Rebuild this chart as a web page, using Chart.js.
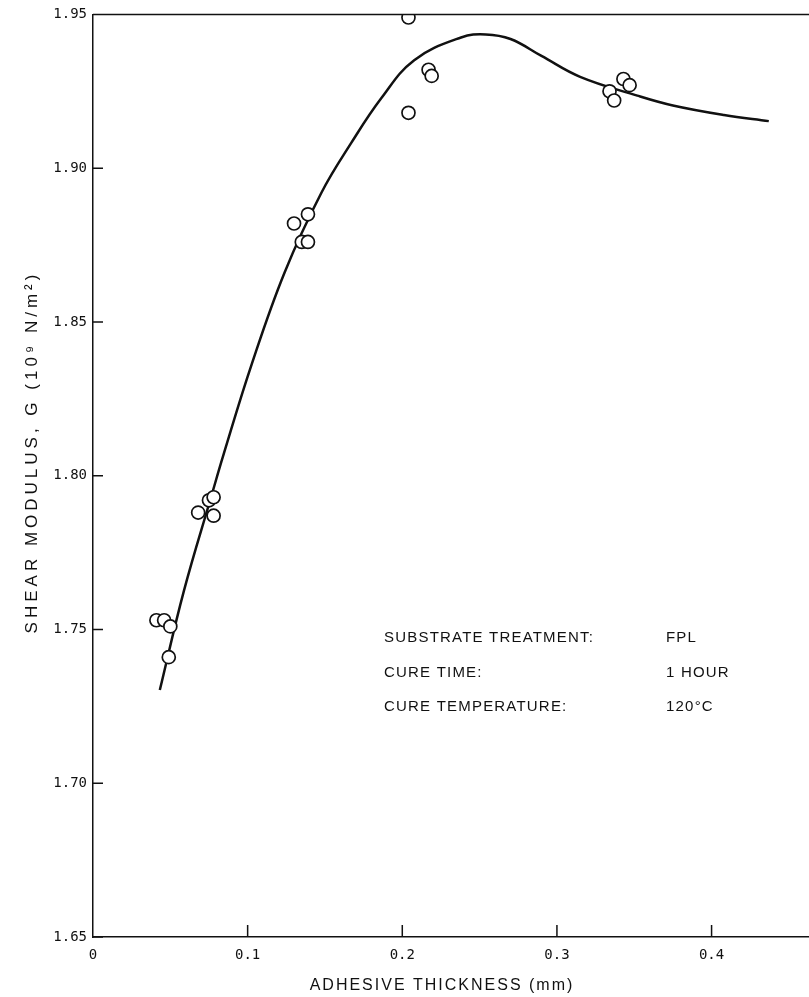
<!DOCTYPE html>
<html>
<head>
<meta charset="utf-8">
<script src="https://cdn.jsdelivr.net/npm/chart.js@4"></script>
<style>
  html, body { margin: 0; padding: 0; background: #fff; }
  #wrap { width: 809px; height: 997px; }
</style>
</head>
<body>
<div id="wrap"><canvas id="chart" width="809" height="997"></canvas></div>
<script>
// measured points (adhesive thickness mm, G in 10^9 N/m^2)
const pointX = [0.041, 0.046, 0.050, 0.049, 0.068, 0.075, 0.078, 0.078,
                0.130, 0.139, 0.135, 0.139, 0.204, 0.217, 0.219, 0.204,
                0.334, 0.337, 0.343, 0.347];
const pointY = [1.753, 1.753, 1.751, 1.741, 1.788, 1.792, 1.793, 1.787,
                1.882, 1.885, 1.876, 1.876, 1.949, 1.932, 1.930, 1.918,
                1.925, 1.922, 1.929, 1.927];

// fitted curve
const curveX = [0.0432, 0.0587, 0.0768, 0.0845, 0.1026, 0.1239, 0.1477, 0.167, 0.1865, 0.2077,
                0.238, 0.254, 0.270, 0.290, 0.315, 0.352, 0.375, 0.408, 0.437];
const curveY = [1.7303, 1.7624, 1.7938, 1.8070, 1.8362, 1.8661, 1.8920, 1.9082, 1.9228, 1.9351,
                1.9425, 1.9435, 1.9420, 1.9365, 1.9297, 1.9236, 1.9204, 1.9173, 1.9153];

const xTicks = [0, 0.1, 0.2, 0.3, 0.4];
const yTicks = [1.65, 1.70, 1.75, 1.80, 1.85, 1.90, 1.95];

const noteLabels = ['SUBSTRATE TREATMENT:', 'CURE TIME:', 'CURE TEMPERATURE:'];
const noteValues = ['FPL', '1 HOUR', '120°C'];

const xTitle = 'ADHESIVE THICKNESS (mm)';
const yTitle = 'SHEAR MODULUS, G (10⁹ N/m²)';

const tickFont = { family: 'DejaVu Sans Mono', size: 14 };

// inward tick marks, top frame line, titles, note box
const paperPlugin = {
  id: 'paper',
  afterDraw(chart) {
    const ctx = chart.ctx;
    const xs = chart.scales.x, ys = chart.scales.y;
    const a = chart.chartArea;
    ctx.save();
    ctx.strokeStyle = '#111';
    ctx.lineWidth = 1.5;
    ctx.beginPath();
    // top line at 1.95
    ctx.moveTo(a.left, ys.getPixelForValue(1.95));
    ctx.lineTo(a.right, ys.getPixelForValue(1.95));
    yTicks.forEach(v => {
      const y = ys.getPixelForValue(v);
      ctx.moveTo(a.left, y);
      ctx.lineTo(a.left + 10, y);
    });
    xTicks.forEach(v => {
      if (v === 0) return;
      const x = xs.getPixelForValue(v);
      ctx.moveTo(x, a.bottom);
      ctx.lineTo(x, a.bottom - 12);
    });
    ctx.stroke();

    ctx.fillStyle = '#111';
    ctx.font = '16px "Liberation Sans"';
    ctx.letterSpacing = '2px';
    ctx.textBaseline = 'middle';
    ctx.textAlign = 'center';
    ctx.fillText(xTitle, 442, 986);

    ctx.save();
    ctx.translate(32, 452);
    ctx.rotate(-Math.PI / 2);
    ctx.font = '17px "Liberation Sans"';
    ctx.letterSpacing = '4px';
    ctx.fillText(yTitle, 0, 0);
    ctx.restore();

    ctx.textAlign = 'left';
    ctx.font = '15px "Liberation Sans"';
    ctx.letterSpacing = '1.2px';
    noteLabels.forEach((t, i) => {
      const y = 638 + i * 34.5;
      ctx.fillText(t, 384, y);
      ctx.fillText(noteValues[i], 666, y);
    });
    ctx.restore();
  }
};

const ctx = document.getElementById('chart').getContext('2d');
new Chart(ctx, {
  type: 'scatter',
  data: {
    datasets: [
      {
        label: 'measured',
        data: pointX.map((x, i) => ({ x: x, y: pointY[i] })),
        pointStyle: 'circle',
        pointRadius: 6.5,
        pointBackgroundColor: '#fff',
        pointBorderColor: '#111',
        pointBorderWidth: 1.7,
        showLine: false,
        order: 0
      },
      {
        label: 'curve',
        data: curveX.map((x, i) => ({ x: x, y: curveY[i] })),
        showLine: true,
        borderColor: '#111',
        borderWidth: 2.5,
        pointRadius: 0,
        tension: 0.4,
        fill: false,
        order: 1
      }
    ]
  },
  options: {
    responsive: false,
    animation: false,
    layout: { autoPadding: false, padding: { top: 11, right: 0, left: 0, bottom: 0 } },
    plugins: {
      legend: { display: false },
      tooltip: { enabled: false }
    },
    scales: {
      x: {
        type: 'linear',
        min: 0,
        max: 0.463,
        afterFit: s => { s.height = 60; },
        afterBuildTicks: s => { s.ticks = xTicks.map(v => ({ value: v })); },
        grid: { display: false, drawTicks: false },
        border: { display: true, color: '#111', width: 1.5 },
        ticks: {
          color: '#111',
          font: tickFont,
          padding: 10,
          maxRotation: 0,
          callback: v => String(v)
        }
      },
      y: {
        type: 'linear',
        min: 1.65,
        max: 1.95,
        afterFit: s => { s.width = 93; },
        afterBuildTicks: s => { s.ticks = yTicks.map(v => ({ value: v })); },
        grid: { display: false, drawTicks: false },
        border: { display: true, color: '#111', width: 1.5 },
        ticks: {
          color: '#111',
          font: tickFont,
          padding: 6,
          callback: v => v.toFixed(2)
        }
      }
    }
  },
  plugins: [paperPlugin]
});
</script>
</body>
</html>
